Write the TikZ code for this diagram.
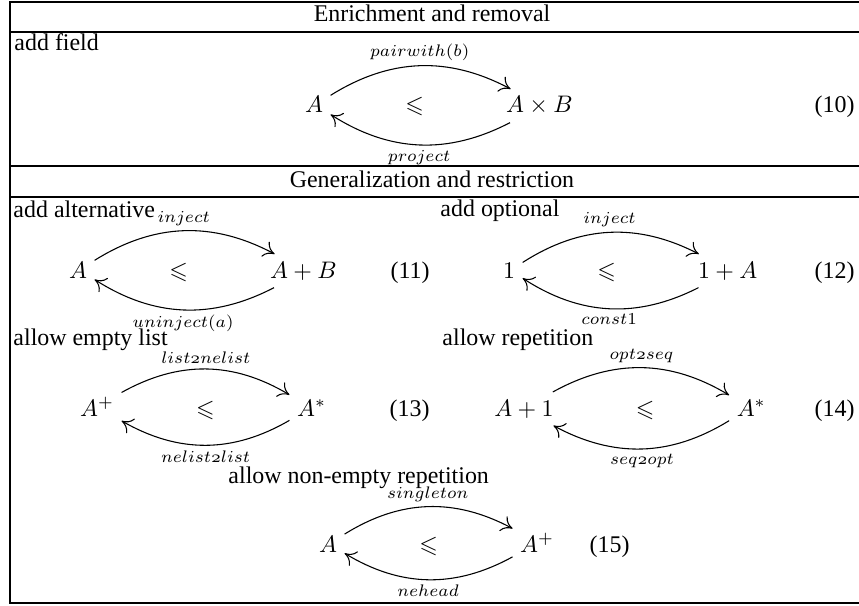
\documentclass[tikz,border=0pt]{standalone}
\usepackage[no-math]{fontspec}
\setmainfont{Liberation Serif}
\usepackage{amsmath}
\usepackage{amssymb}
\usetikzlibrary{calc, positioning, arrows.meta}

\begin{document}
\begin{tikzpicture}[x=0.418pt, y=-0.418pt,
    obj/.style={inner sep=3pt},
    rel/.style={-{To[length=4.5pt,width=7pt]}, line width=0.45pt},
    lbl/.style={font=\scriptsize, inner sep=2pt},
    rule/.style={line width=0.5pt},
    node distance=28pt]
    \useasboundingbox (0,0) rectangle (859,606);

    % table lines
    \draw[rule] (859,2) -- (10,2) -- (10,603) -- (859,603);
    \draw[rule] (10,32) -- (859,32);
    \draw[rule] (10,166) -- (859,166);
    \draw[rule] (10,197) -- (859,197);

    \node[anchor=base] (head1) at (432,22) {Enrichment and removal};
    \node[anchor=base] (head2) at (432,187) {Generalization and restriction};

    % add field
    \node[anchor=base west, inner sep=0] (t10) at (14,51) {add field};
    \node[obj, anchor=base] (a10) at (314,113) {$A$};
    \node[obj, base right=of a10] (le10) {$\leqslant$};
    \node[obj, base right=of le10] (b10) {$A\times B$};
    \node[anchor=base east, inner sep=0] (n10) at (855,113) {(10)};
    \draw[rel] (a10) to[bend left=30] node[lbl, above] {$\mathnormal{pairwith}(b)$} (b10);
    \draw[rel] (b10) to[bend left=30] node[lbl, below] {$\mathnormal{project}$} (a10);

    % add alternative
    \node[anchor=base west, inner sep=0] (t11) at (13,217) {add alternative};
    \node[obj, anchor=base] (a11) at (78,278) {$A$};
    \node[obj, base right=of a11] (le11) {$\leqslant$};
    \node[obj, base right=of le11] (b11) {$A+B$};
    \node[anchor=base east, inner sep=0] (n11) at (430,278) {(11)};
    \draw[rel] (a11) to[bend left=30] node[lbl, above] {$\mathnormal{inject}$} (b11);
    \draw[rel] (b11) to[bend left=30] node[lbl, below] {$\mathnormal{uninject}(a)$} (a11);

    % add optional
    \node[anchor=base west, inner sep=0] (t12) at (440,216) {add optional};
    \node[obj, anchor=base] (a12) at (509,278) {$1$};
    \node[obj, base right=of a12] (le12) {$\leqslant$};
    \node[obj, base right=of le12] (b12) {$1+A$};
    \node[anchor=base east, inner sep=0] (n12) at (855,278) {(12)};
    \draw[rel] (a12) to[bend left=30] node[lbl, above] {$\mathnormal{inject}$} (b12);
    \draw[rel] (b12) to[bend left=30] node[lbl, below] {$const1$} (a12);

    % allow empty list
    \node[anchor=base west, inner sep=0] (t13) at (13,345) {allow empty list};
    \node[obj, anchor=base] (a13) at (97,416) {$A^+$};
    \node[obj, base right=of a13] (le13) {$\leqslant$};
    \node[obj, base right=of le13] (b13) {$A^*$};
    \node[anchor=base east, inner sep=0] (n13) at (430,416) {(13)};
    \draw[rel] (a13) to[bend left=30] node[lbl, above] {$\mathnormal{list2nelist}$} (b13);
    \draw[rel] (b13) to[bend left=30] node[lbl, below] {$\mathnormal{nelist2list}$} (a13);

    % allow repetition
    \node[anchor=base west, inner sep=0] (t14) at (442,345) {allow repetition};
    \node[obj, anchor=base] (a14) at (524,416) {$A+1$};
    \node[obj, base right=of a14] (le14) {$\leqslant$};
    \node[obj, base right=of le14] (b14) {$A^*$};
    \node[anchor=base east, inner sep=0] (n14) at (855,416) {(14)};
    \draw[rel] (a14) to[bend left=30] node[lbl, above] {$\mathnormal{opt2seq}$} (b14);
    \draw[rel] (b14) to[bend left=30] node[lbl, below] {$\mathnormal{seq2opt}$} (a14);

    % allow non-empty repetition
    \node[anchor=base west, inner sep=0] (t15) at (228,483) {allow non-empty repetition};
    \node[obj, anchor=base] (a15) at (328,552) {$A$};
    \node[obj, base right=of a15] (le15) {$\leqslant$};
    \node[obj, base right=of le15] (b15) {$A^+$};
    \node[anchor=base east, inner sep=0] (n15) at (630,552) {(15)};
    \draw[rel] (a15) to[bend left=30] node[lbl, above] {$\mathnormal{singleton}$} (b15);
    \draw[rel] (b15) to[bend left=30] node[lbl, below] {$\mathnormal{nehead}$} (a15);
\end{tikzpicture}
\end{document}
